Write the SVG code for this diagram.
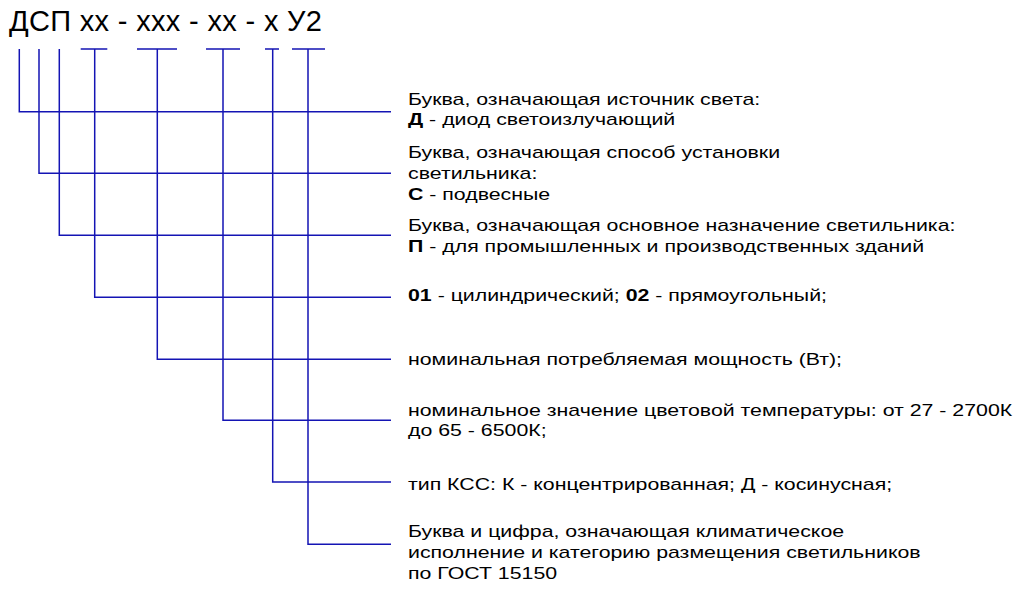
<svg xmlns="http://www.w3.org/2000/svg" width="1027" height="590" viewBox="0 0 1027 590">
<style>
.t{font-family:"Liberation Sans",Arial,sans-serif;font-size:17px;fill:#000}
.ti{font-family:"Liberation Sans",Arial,sans-serif;font-size:29px;fill:#000}
.b{font-weight:bold}
.c{stroke:#1414b4;stroke-width:1.5;fill:none}
</style>
<rect width="1027" height="590" fill="#fff"/>
<g id="title"><text class="ti" x="9" y="31" textLength="313">ДСП хх - ххх - хх - х У2</text></g>
<g id="connectors">
<path class="c" d="M80.7,49H107.3M137,49H177M206,49H240M265,49H279M292,49H325"/>
<path class="c" d="M19.3,49V111.7H391"/>
<path class="c" d="M39,49V173.3H391"/>
<path class="c" d="M59.3,49V235.3H391"/>
<path class="c" d="M94.7,49V297.3H391"/>
<path class="c" d="M157.3,49V359.3H391"/>
<path class="c" d="M223,49V420.3H391"/>
<path class="c" d="M272.7,49V482H391"/>
<path class="c" d="M308,49V544.3H391"/>
</g>
<g transform="translate(408,0) scale(1.255,1)">
<g id="n1"><text class="t" x="0" y="105.5">Буква, означающая источник света:</text><text class="t" x="0" y="125.5"><tspan class="b">Д</tspan> - диод светоизлучающий</text></g>
<g id="n2"><text class="t" x="0" y="158">Буква, означающая способ установки</text><text class="t" x="0" y="179">светильника:</text><text class="t" x="0" y="200"><tspan class="b">С</tspan> - подвесные</text></g>
<g id="n3"><text class="t" x="0" y="231.5">Буква, означающая основное назначение светильника:</text><text class="t" x="0" y="252.5"><tspan class="b">П</tspan> - для промышленных и производственных зданий</text></g>
<g id="n4"><text class="t" x="0" y="301.5"><tspan class="b">01</tspan> - цилиндрический; <tspan class="b">02</tspan> - прямоугольный;</text></g>
<g id="n5"><text class="t" x="0" y="365">номинальная потребляемая мощность (Вт);</text></g>
<g id="n6"><text class="t" x="0" y="416">номинальное значение цветовой температуры: от 27 - 2700К</text><text class="t" x="0" y="436">до 65 - 6500К;</text></g>
<g id="n7"><text class="t" x="0" y="490">тип КСС: К - концентрированная; Д - косинусная;</text></g>
<g id="n8"><text class="t" x="0" y="537">Буква и цифра, означающая климатическое</text><text class="t" x="0" y="558">исполнение и категорию размещения светильников</text><text class="t" x="0" y="579">по ГОСТ 15150</text></g>
</g>
</svg>
